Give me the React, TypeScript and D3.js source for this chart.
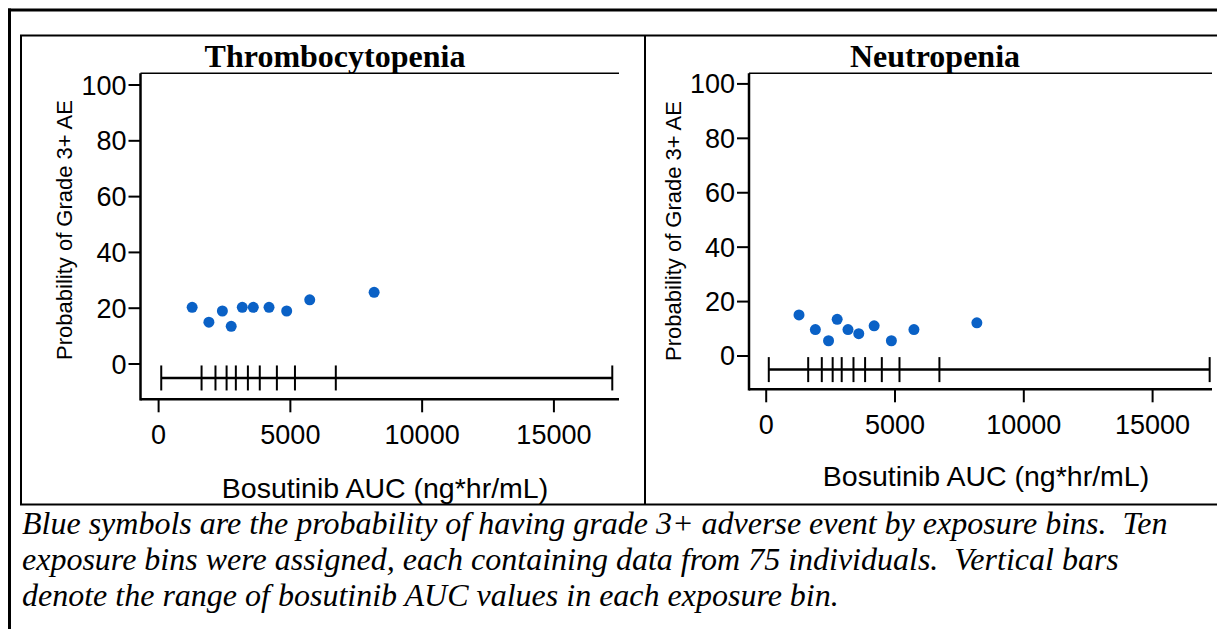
import React from "react";
import * as d3 from "d3";

const binEdges = [100, 1630, 2158, 2580, 2931, 3388, 3839, 4488, 5174, 6724, 17215];
const binAuc = [1273, 1908, 2420, 2755, 3175, 3593, 4190, 4860, 5735, 8178];
const thrombProb = [20.3, 15, 19, 13.5, 20.3, 20.3, 20.3, 19, 23, 25.7];
const neutroProb = [15.1, 9.7, 5.6, 13.5, 9.7, 8.2, 11.1, 5.6, 9.7, 12.2];
const binMarkerY = -5;
const yTicks = [0, 20, 40, 60, 80, 100];
const xTicks = [0, 5000, 10000, 15000];
const yTitle = "Probability of Grade 3+ AE";
const xTitle = "Bosutinib AUC (ng*hr/mL)";
const captionLines = [
  "Blue symbols are the probability of having grade 3+ adverse event by exposure bins.  Ten",
  "exposure bins were assigned, each containing data from 75 individuals.  Vertical bars",
  "denote the range of bosutinib AUC values in each exposure bin.",
];

const SANS = "'Liberation Sans', Arial, Helvetica, sans-serif";
const SERIF = "'Liberation Serif', 'Times New Roman', Times, serif";
const BLUE = "#0A61C6";

const panels = [
  {
    title: "Thrombocytopenia", prob: thrombProb, titleX: 335,
    x0: 140.5, x1: 619, xDomain: [-687, 17470],
    yTop: 73.3, yBot: 399.3, yDomain: [-12.65, 104.2],
    yTitleX: 72, yTitleY: 230, xTitleX: 385, xTitleY: 498,
  },
  {
    title: "Neutropenia", prob: neutroProb, titleX: 935,
    x0: 749, x1: 1212, xDomain: [-668, 17306],
    yTop: 73.3, yBot: 389.3, yDomain: [-12.24, 103.9],
    yTitleX: 681, yTitleY: 231, xTitleX: 986, xTitleY: 486,
  },
];

function Panel({ p }: { p: any }) {
  const x = d3.scaleLinear().domain(p.xDomain).range([p.x0, p.x1]);
  const y = d3.scaleLinear().domain(p.yDomain).range([p.yBot, p.yTop]);
  const by = y(binMarkerY);
  return (
    <g>
      <text x={p.titleX} y={67} textAnchor="middle" fontFamily={SERIF} fontWeight="bold" fontSize={32}>{p.title}</text>
      <line x1={p.x0} x2={p.x1} y1={p.yTop} y2={p.yTop} stroke="#000" strokeWidth={1.5} />
      <line x1={p.x0} x2={p.x1} y1={p.yBot} y2={p.yBot} stroke="#000" strokeWidth={2.5} />
      <line x1={p.x0} x2={p.x0} y1={p.yTop} y2={p.yBot + 1.2} stroke="#000" strokeWidth={2.5} />
      {yTicks.map((t) => (
        <g key={"y" + t}>
          <line x1={p.x0 - 12} x2={p.x0} y1={y(t)} y2={y(t)} stroke="#000" strokeWidth={2} />
          <text x={p.x0 - 14} y={y(t) + 9.5} textAnchor="end" fontFamily={SANS} fontSize={27}>{t}</text>
        </g>
      ))}
      {xTicks.map((t) => (
        <g key={"x" + t}>
          <line x1={x(t)} x2={x(t)} y1={p.yBot} y2={p.yBot + 13} stroke="#000" strokeWidth={2} />
          <text x={x(t)} y={p.yBot + 45} textAnchor="middle" fontFamily={SANS} fontSize={27}>{t}</text>
        </g>
      ))}
      <text transform={`translate(${p.yTitleX},${p.yTitleY}) rotate(-90)`} textAnchor="middle" fontFamily={SANS} fontSize={22}>{yTitle}</text>
      <text x={p.xTitleX} y={p.xTitleY} textAnchor="middle" fontFamily={SANS} fontSize={28.5}>{xTitle}</text>
      <line x1={x(binEdges[0])} x2={x(binEdges[binEdges.length - 1])} y1={by} y2={by} stroke="#000" strokeWidth={2.5} />
      {binEdges.map((e, i) => (
        <line key={"b" + i} x1={x(e)} x2={x(e)} y1={by - 12.5} y2={by + 12.5} stroke="#000" strokeWidth={2} />
      ))}
      {binAuc.map((a, i) => (
        <circle key={"c" + i} cx={x(a)} cy={y(p.prob[i])} r={5.5} fill={BLUE} />
      ))}
    </g>
  );
}

export default function App() {
  return (
    <svg width={1217} height={629} style={{ position: "absolute", left: 0, top: 0, background: "#fff" }}>
      <rect x={0} y={0} width={1217} height={629} fill="#fff" />
      <line x1={8} x2={1217} y1={10} y2={10} stroke="#000" strokeWidth={3} />
      <line x1={9.5} x2={9.5} y1={8.5} y2={629} stroke="#000" strokeWidth={3} />
      <line x1={20} x2={1217} y1={35.5} y2={35.5} stroke="#000" strokeWidth={2} />
      <line x1={21} x2={21} y1={35.5} y2={505} stroke="#000" strokeWidth={2} />
      <line x1={20} x2={1217} y1={504.5} y2={504.5} stroke="#000" strokeWidth={2} />
      <line x1={645} x2={645} y1={35.5} y2={504.5} stroke="#000" strokeWidth={2} />
      {panels.map((p) => <Panel key={p.title} p={p} />)}
      {captionLines.map((l, i) => (
        <text key={i} x={22} y={534 + i * 36} fontFamily={SERIF} fontStyle="italic" fontSize={32} style={{ whiteSpace: "pre" }}>{l}</text>
      ))}
    </svg>
  );
}
